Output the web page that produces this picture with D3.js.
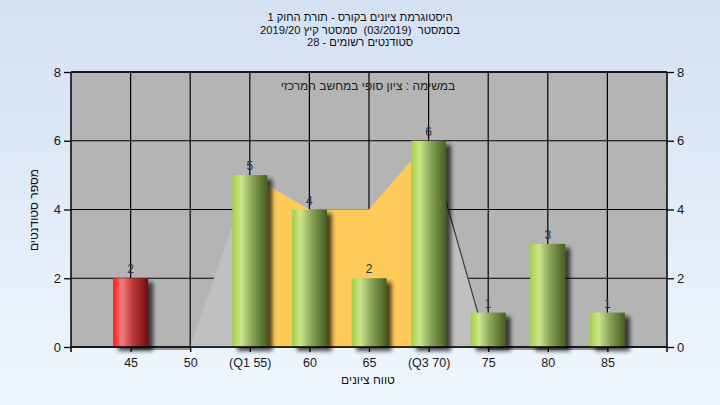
<!DOCTYPE html>
<html><head><meta charset="utf-8">
<script src="https://cdn.jsdelivr.net/npm/d3@7/dist/d3.min.js"></script>
<style>
html,body{margin:0;padding:0;}
body{width:720px;height:405px;overflow:hidden;}
text{font-family:"Liberation Sans",Arial,sans-serif;white-space:pre;}
</style></head>
<body>
<svg id="c" width="720" height="405"></svg>
<script>
const categories = ["45","50","(Q1 55)","60","65","(Q3 70)","75","80","85"];
const counts = [2,0,5,4,2,6,1,3,1];
const areaValues = [0,0,5,4,4,6,0,0,0];
const failing = [true,false,false,false,false,false,false,false,false];
const q1Index = 2, q3Index = 5;
const yTicks = [0,2,4,6,8];
const titleLines = ["היסטוגרמת ציונים בקורס - תורת החוק 1","בסמסטר  (03/2019)  סמסטר קיץ 2019/20","סטודנטים רשומים - 28"];
const subtitle = "במשימה : ציון סופי במחשב המרכזי";
const xTitle = "טווח ציונים";
const yTitle = "מספר סטודנטים";

const W=720,H=405;
const m={l:71,r:667,t:72,b:347};
const svg=d3.select("#c");
const defs=svg.append("defs");

const bg=defs.append("linearGradient").attr("id","bg").attr("x1",0).attr("y1",0).attr("x2",0).attr("y2",1);
bg.append("stop").attr("offset","0%").attr("stop-color","#d4e1f3");
bg.append("stop").attr("offset","100%").attr("stop-color","#eff6fd");

function barGrad(id,stops){
  const g=defs.append("linearGradient").attr("id",id).attr("x1",0).attr("y1",0).attr("x2",1).attr("y2",0);
  stops.forEach(s=>g.append("stop").attr("offset",s[0]).attr("stop-color",s[1]));
}
barGrad("gGreen",[["0%","#a3cf45"],["25%","#cbe68b"],["55%","#8aa65a"],["100%","#465e1f"]]);
barGrad("gRed",[["0%","#ff1a1a"],["25%","#f07c7c"],["55%","#c03a3a"],["100%","#6e0d0d"]]);

const f=defs.append("filter").attr("id","sh").attr("x","-20%").attr("y","-20%").attr("width","160%").attr("height","160%");
f.append("feGaussianBlur").attr("in","SourceAlpha").attr("stdDeviation",2).attr("result","b");
f.append("feOffset").attr("in","b").attr("dx",5).attr("dy",4).attr("result","o");
f.append("feComponentTransfer").attr("in","o").attr("result","o2").append("feFuncA").attr("type","linear").attr("slope",0.7);
const mg=f.append("feMerge");
mg.append("feMergeNode").attr("in","o2");
mg.append("feMergeNode").attr("in","SourceGraphic");

svg.append("rect").attr("width",W).attr("height",H).attr("fill","url(#bg)");

const x=d3.scalePoint().domain(categories).range([m.l,m.r]).padding(1);
const y=d3.scaleLinear().domain([0,8]).range([m.b,m.t]);
const bw=35;

svg.append("rect").attr("x",m.l).attr("y",m.t).attr("width",m.r-m.l).attr("height",m.b-m.t).attr("fill","#b4b4b4");

// grid
const grid=svg.append("g").attr("stroke","#000").attr("stroke-width",1.2);
yTicks.forEach(t=>grid.append("line").attr("x1",m.l).attr("x2",m.r).attr("y1",y(t)).attr("y2",y(t)));
categories.forEach(c=>grid.append("line").attr("x1",x(c)).attr("x2",x(c)).attr("y1",m.t).attr("y2",m.b));

// area
const pts=categories.map((c,i)=>({c,v:areaValues[i],i}));
const area=d3.area().x(d=>x(d.c)).y0(y(0)).y1(d=>y(d.v));
svg.append("path").datum(pts).attr("d",area).attr("fill","#c0c0c0");
svg.append("path").datum(pts.filter(d=>d.i>=q1Index&&d.i<=q3Index)).attr("d",area).attr("fill","#fecb59");
const ln=d3.line().x(d=>x(d.c)).y(d=>y(d.v)+(d.v===0?2:0));
svg.append("path").datum(pts.filter(d=>d.i>=q3Index)).attr("d",ln).attr("fill","none").attr("stroke","#3a3a3a").attr("stroke-width",1.2);
svg.append("path").datum(pts.filter(d=>d.i<q1Index)).attr("d",ln).attr("fill","none").attr("stroke","#3a3a3a").attr("stroke-width",1.2);

// bars
categories.forEach((c,i)=>{
  if(counts[i]<=0) return;
  svg.append("rect").attr("x",x(c)-bw/2).attr("y",y(counts[i])).attr("width",bw).attr("height",y(0)-y(counts[i]))
    .attr("fill",failing[i]?"url(#gRed)":"url(#gGreen)").attr("filter","url(#sh)");
  svg.append("text").attr("x",x(c)).attr("y",y(counts[i])-5).attr("text-anchor","middle")
    .attr("font-size",12).attr("fill","#223355").text(counts[i]);
});

// frame
const fr=svg.append("g").attr("stroke","#000").attr("stroke-width",1.5);
fr.append("line").attr("x1",m.l).attr("x2",m.r).attr("y1",m.t).attr("y2",m.t);
fr.append("line").attr("x1",m.l).attr("x2",m.r).attr("y1",m.b).attr("y2",m.b);
fr.append("line").attr("x1",m.l).attr("x2",m.l).attr("y1",m.t).attr("y2",m.b+5);
fr.append("line").attr("x1",m.r).attr("x2",m.r).attr("y1",m.t).attr("y2",m.b+5);

// axes
const yl=svg.append("g").attr("transform",`translate(${m.l},0)`).call(d3.axisLeft(y).tickValues(yTicks).tickSize(7).tickPadding(3).tickFormat(d3.format("d")));
const yr=svg.append("g").attr("transform",`translate(${m.r},0)`).call(d3.axisRight(y).tickValues(yTicks).tickSize(7).tickPadding(3).tickFormat(d3.format("d")));
const xa=svg.append("g").attr("transform",`translate(0,${m.b})`).call(d3.axisBottom(x).tickSize(5).tickPadding(6));
[yl,yr,xa].forEach(g=>{
  g.select(".domain").remove();
  g.selectAll(".tick line").attr("stroke","#000").attr("stroke-width",1.3);
  g.selectAll(".tick text").attr("font-size",13).attr("fill","#1a1a1a").attr("font-family","Liberation Sans, Arial, sans-serif");
});
xa.selectAll(".tick text").attr("font-size",12.5);

// titles
titleLines.forEach((t,i)=>svg.append("text").attr("x",360).attr("y",21+i*12.5).attr("text-anchor","middle")
  .attr("font-size",11.2).attr("fill","#111").attr("direction","rtl").attr("unicode-bidi","plaintext").text(t));
svg.append("text").attr("x",368).attr("y",90).attr("text-anchor","middle").attr("font-size",12).attr("fill","#222").text(subtitle);
svg.append("text").attr("x",368).attr("y",384).attr("text-anchor","middle").attr("font-size",12).attr("fill","#111").text(xTitle);
svg.append("text").attr("transform","translate(38,210) rotate(-90)").attr("text-anchor","middle").attr("font-size",12).attr("fill","#111").text(yTitle);
</script>
</body></html>
